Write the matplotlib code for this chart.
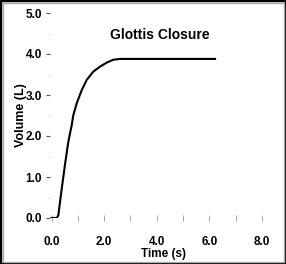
import matplotlib
matplotlib.use("Agg")
import matplotlib.pyplot as plt
from matplotlib.patches import Rectangle
from matplotlib.ticker import MultipleLocator

# data
time_s = [0.0, 0.2, 0.26, 0.39, 0.51, 0.64, 0.77, 0.83, 0.96, 1.15, 1.34, 1.59,
          1.84, 2.1, 2.35, 2.6, 6.22]
volume_l = [0.0, 0.0, 0.07, 0.72, 1.29, 1.86, 2.27, 2.51, 2.8, 3.12, 3.37, 3.57,
            3.69, 3.79, 3.86, 3.88, 3.88]
x_ticks = [0, 2, 4, 6, 8]
x_labels = ["0.0", "2.0", "4.0", "6.0", "8.0"]
y_ticks = [0, 1, 2, 3, 4, 5]
y_labels = ["0.0", "1.0", "2.0", "3.0", "4.0", "5.0"]
title = "Glottis Closure"

plt.rcParams['font.family'] = ['Liberation Sans', 'DejaVu Sans']
plt.rcParams['font.weight'] = 'bold'

fig = plt.figure(figsize=(2.86, 2.64), dpi=100)
# x: 0 -> px 51.5, 26.3 px per unit ; y: 0 -> px 218, 41 px per unit
x0, x1 = -0.05, 8.6
ax = fig.add_axes([(51.5 + x0 * 26.3) / 286, (264 - 218) / 264,
                   (x1 - x0) * 26.3 / 286, 205 / 264])
ax.plot(time_s, volume_l, color="black", lw=1.5, solid_joinstyle="round")
ax.set_xlim(x0, x1)
ax.set_ylim(0, 5)

for s in ax.spines.values():
    s.set_visible(False)

ax.set_xticks(x_ticks)
ax.set_xticklabels(x_labels, fontsize=8.5, fontweight="bold")
ax.xaxis.set_minor_locator(MultipleLocator(1))
ax.tick_params(axis="x", which="both", direction="inout", length=4, width=0.6,
               color="#999999", pad=11)
ax.set_yticks(y_ticks)
ax.set_yticklabels(y_labels, fontsize=8.5, fontweight="bold")
ax.yaxis.set_minor_locator(MultipleLocator(0.5))
ax.tick_params(axis="y", which="major", direction="out", length=3, width=0.8,
               color="#555555", pad=3)
ax.tick_params(axis="y", which="minor", direction="out", length=1, width=0.6,
               color="#999999")

ax.set_xlabel("Time (s)", fontsize=8.5, fontweight="bold", labelpad=0)
ax.set_ylabel("Volume (L)", fontsize=9, fontweight="bold", labelpad=-1)
ax.text(4.1, 4.46, title, fontsize=10, fontweight="bold", ha="center", va="center")

# picture frame
fig.patches.append(Rectangle((0, 0), 1, 1, transform=fig.transFigure, fill=False,
                             edgecolor="black", lw=2.5))
fig.patches.append(Rectangle((2.5 / 286, 2.5 / 264), 281 / 286, 259 / 264,
                             transform=fig.transFigure, fill=False,
                             edgecolor="#aaaaaa", lw=1))

fig.savefig("out.png", dpi=100)
